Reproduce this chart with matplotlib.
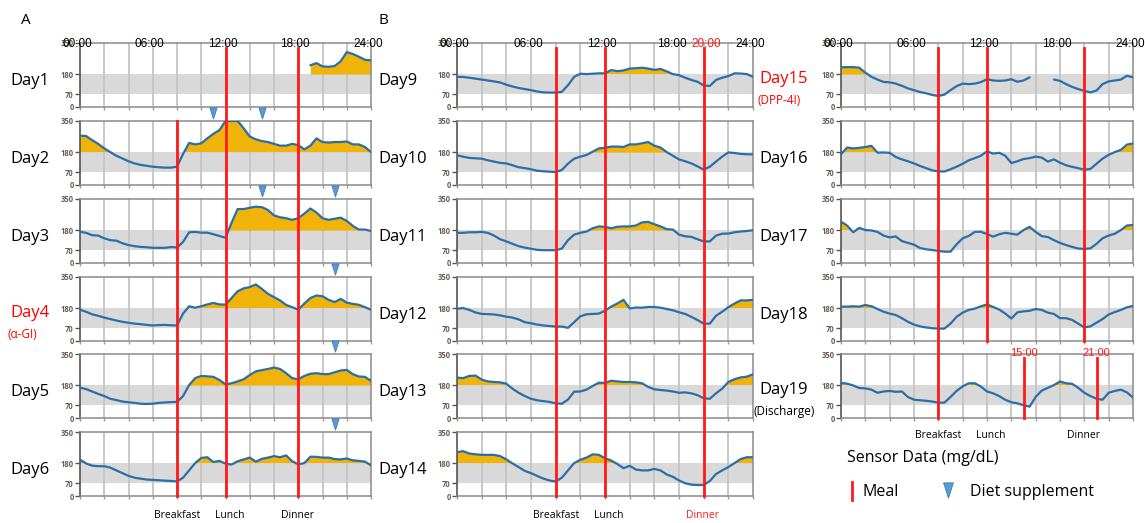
import numpy as np
import matplotlib
matplotlib.use('Agg')
import matplotlib.pyplot as plt
from matplotlib.lines import Line2D

plt.rcParams['font.family'] = ['Open Sans', 'DejaVu Sans']

# half-hour sensor readings (mg/dL), 00:00 .. 24:00
hours = np.arange(0, 24.5, 0.5)
nan = np.nan

day1 = [nan] * 38 + [228, 240, 222, 220, 224, 250, 300, 290, 275, 258, 255]
day2 = [270, 268, 245, 225, 200, 180, 160, 145, 130, 118, 110, 105, 100, 97, 95, 95, 100, 170,
        230, 222, 228, 255, 280, 300, 350, 350, 350, 310, 265, 250, 240, 235, 225, 215, 215, 225,
        218, 195, 215, 255, 235, 232, 235, 235, 238, 222, 222, 208, 180]
day3 = [171, 165, 152, 150, 135, 125, 122, 108, 98, 92, 88, 86, 83, 83, 83, 87, 85, 115,
        168, 170, 166, 166, 157, 148, 138, 220, 295, 295, 302, 308, 305, 290, 260, 250, 245, 236,
        245, 270, 298, 276, 245, 236, 242, 248, 230, 203, 183, 183, 175]
day4 = [171, 160, 146, 138, 128, 120, 112, 105, 100, 95, 92, 88, 85, 87, 88, 86, 85, 150,
        190, 182, 190, 200, 208, 200, 199, 235, 272, 288, 295, 309, 285, 258, 240, 222, 197, 185,
        171, 205, 235, 249, 245, 225, 213, 230, 210, 203, 198, 185, 171]
day5 = [166, 158, 145, 132, 120, 105, 98, 90, 86, 83, 78, 77, 78, 83, 85, 87, 88, 120,
        180, 218, 230, 228, 225, 208, 184, 190, 200, 212, 235, 255, 262, 268, 276, 268, 245, 218,
        212, 230, 242, 245, 240, 240, 250, 260, 263, 240, 227, 225, 203]
day6 = [199, 178, 166, 163, 163, 155, 140, 125, 110, 100, 95, 90, 88, 86, 84, 82, 80, 100,
        140, 180, 208, 212, 186, 192, 177, 172, 190, 200, 210, 188, 203, 210, 218, 212, 222, 190,
        173, 180, 215, 214, 210, 210, 202, 200, 205, 195, 192, 188, 168]
day9 = [165, 164, 160, 155, 150, 145, 140, 134, 122, 112, 104, 98, 92, 85, 80, 79, 79, 83,
        119, 165, 182, 180, 182, 184, 184, 202, 196, 200, 210, 212, 215, 210, 203, 208, 195, 180,
        174, 160, 148, 138, 118, 115, 148, 160, 169, 184, 183, 180, 165]
day10 = [162, 155, 148, 146, 144, 135, 128, 121, 118, 108, 97, 92, 86, 78, 75, 73, 71, 82,
         117, 144, 155, 164, 182, 200, 204, 210, 210, 208, 222, 222, 228, 235, 215, 205, 180, 160,
         140, 130, 118, 102, 84, 100, 128, 155, 178, 175, 170, 168, 168]
day11 = [165, 165, 168, 168, 170, 165, 150, 130, 118, 105, 92, 84, 78, 72, 70, 70, 70, 79,
         125, 155, 165, 172, 190, 200, 198, 190, 198, 200, 200, 205, 222, 225, 212, 200, 185, 183,
         155, 146, 143, 130, 118, 118, 150, 160, 161, 168, 172, 175, 179]
day12 = [176, 180, 170, 156, 148, 147, 145, 140, 133, 128, 118, 103, 97, 90, 85, 82, 79, 79,
         72, 103, 135, 146, 148, 150, 165, 188, 205, 225, 178, 183, 182, 186, 186, 182, 175, 168,
         157, 148, 132, 115, 95, 95, 138, 160, 185, 205, 222, 222, 225]
day13 = [221, 218, 230, 232, 210, 200, 197, 195, 188, 160, 138, 120, 105, 97, 92, 88, 80, 78,
         101, 144, 145, 155, 175, 193, 192, 204, 200, 197, 197, 195, 190, 170, 157, 153, 150, 145,
         138, 140, 135, 125, 108, 105, 135, 160, 197, 212, 222, 226, 239]
day14 = [240, 245, 232, 228, 225, 225, 225, 218, 200, 178, 158, 137, 125, 110, 95, 85, 79, 100,
         140, 180, 198, 210, 228, 225, 207, 194, 175, 152, 165, 145, 140, 140, 148, 140, 118, 105,
         85, 70, 62, 60, 60, 82, 120, 140, 158, 180, 202, 212, 212]
day15 = [217, 218, 218, 215, 188, 165, 150, 137, 135, 128, 116, 102, 92, 82, 75, 66, 60, 68,
         92, 114, 128, 125, 128, 136, 152, 145, 143, 145, 152, 138, 145, 162, nan, nan, nan, 150,
         143, 125, 110, 98, 88, 80, 90, 125, 140, 145, 150, 171, 162]
day16 = [168, 205, 200, 203, 208, 214, 177, 178, 176, 153, 140, 130, 118, 104, 92, 80, 74, 74,
         86, 100, 116, 135, 147, 160, 184, 172, 176, 160, 120, 130, 142, 147, 155, 150, 128, 140,
         122, 108, 99, 92, 83, 88, 116, 144, 165, 180, 192, 221, 227]
day17 = [226, 205, 168, 192, 180, 178, 170, 150, 140, 145, 120, 110, 100, 82, 75, 71, 66, 62,
         62, 102, 135, 148, 170, 171, 158, 144, 157, 165, 160, 155, 180, 198, 170, 147, 142, 125,
         110, 98, 88, 79, 77, 80, 105, 135, 150, 160, 180, 205, 208]
day18 = [188, 188, 190, 188, 197, 190, 175, 160, 150, 142, 125, 105, 90, 80, 74, 70, 68, 68,
         95, 132, 155, 170, 177, 190, 200, 186, 172, 150, 123, 157, 162, 165, 175, 170, 155, 148,
         125, 125, 115, 95, 74, 80, 100, 120, 145, 158, 170, 184, 192]
day19 = [192, 188, 178, 164, 162, 155, 138, 145, 148, 143, 145, 115, 100, 97, 94, 90, 84, 84,
         115, 148, 173, 190, 190, 172, 145, 135, 120, 100, 86, 80, 70, 62, 115, 150, 165, 180,
         200, 190, 187, 165, 138, 120, 105, 100, 138, 148, 155, 140, 112]

col_days = [
    [("Day1", day1), ("Day2", day2), ("Day3", day3), ("Day4", day4), ("Day5", day5), ("Day6", day6)],
    [("Day9", day9), ("Day10", day10), ("Day11", day11), ("Day12", day12), ("Day13", day13), ("Day14", day14)],
    [("Day15", day15), ("Day16", day16), ("Day17", day17), ("Day18", day18), ("Day19", day19)],
]
day_notes = {"Day4": ("(\u03b1-GI)", 'red'), "Day15": ("(DPP-4I)", 'red'), "Day19": ("(Discharge)", 'black')}
supplements = {"Day2": [11, 15], "Day3": [15, 21], "Day4": [21], "Day5": [21], "Day6": [21]}
meal_times = [[8, 12, 18], [8, 12, 20], [8, 12, 20]]
day19_meals = [15, 21]
top_labels = ["00:00", "06:00", "12:00", "18:00", "24:00"]
top_hours = [0, 6, 12, 18, 24]

W, H = 1145, 523
BLUE = '#2a6ea8'
YELLOW = '#f0b30a'
BAND = '#d9d9d9'
GRID = '#c4c4c4'
RED = '#ff1a1a'
TICKC = '#6e5e50'
TRI = '#5b9bd5'

fig = plt.figure(figsize=(W / 100, H / 100), dpi=100)

col_x = [(80, 371), (457, 753), (841, 1133)]
row_top = [43, 121, 199, 277, 354, 432]
row_h = 64


def fxy(x, y):
    return x / W, 1 - y / H


def hx(col, h):
    x0, x1 = col_x[col]
    return x0 + h / 24.0 * (x1 - x0)


tri_path = [(-0.32, 0.5), (0.32, 0.5), (0, -0.5), (-0.32, 0.5)]

for c, days in enumerate(col_days):
    x0, x1 = col_x[c]
    for r, (name, vals) in enumerate(days):
        v = np.array(vals, dtype=float)
        assert v.size == hours.size, name
        top = row_top[r]
        ax = fig.add_axes([x0 / W, 1 - (top + row_h) / H, (x1 - x0) / W, row_h / H])
        ax.set_xlim(0, 24)
        ax.set_ylim(0, 350)
        ax.axhspan(70, 180, color=BAND, lw=0, zorder=0)
        for g in range(2, 24, 2):
            ax.axvline(g, color=GRID, lw=1.3, zorder=1)
        ax.fill_between(hours, 180, v, where=v > 180, interpolate=True, color=YELLOW, lw=0, zorder=2)
        ax.fill_between(hours, v, 70, where=v < 70, interpolate=True, color=RED, lw=0, zorder=2)
        ax.plot(hours, v, color=BLUE, lw=1.6, zorder=3, solid_capstyle='round')
        ax.set_yticks([0, 70, 180, 350])
        ax.set_xticks(range(0, 25, 2))
        ax.set_xticklabels([])
        ax.tick_params(axis='y', labelsize=5.5, labelcolor=TICKC, length=3.5, width=1,
                       color='#555555', pad=1)
        ax.tick_params(axis='x', length=2, width=1, color='#999999')
        for lab in ax.get_yticklabels():
            lab.set_fontweight('bold')
        for s in ['top', 'right', 'bottom']:
            ax.spines[s].set_color('#8a8a8a')
            ax.spines[s].set_linewidth(1.1)
        ax.spines['left'].set_color('#555555')
        ax.spines['left'].set_linewidth(1.2)

        for h in supplements.get(name, []):
            ax.plot(h, 1 + 8 / row_h, marker=tri_path, markersize=8, color=TRI,
                    markeredgecolor='#3d7bb8', markeredgewidth=0.6,
                    transform=ax.get_xaxis_transform(), clip_on=False, zorder=6)

        # day label
        lx = [10, 378, 759][c]
        if name in day_notes:
            note, nc = day_notes[name]
            fig.text(*fxy(lx, top + 36), name, fontsize=12, color=nc, va='center', ha='left')
            fig.text(*fxy(lx - (4 if name == "Day19" else 0) - 2, top + 57), note, fontsize=8.5,
                     color=nc, va='center', ha='left')
        else:
            fig.text(*fxy(lx, top + 38), name, fontsize=12, va='center', ha='left')

    # time labels above first row
    for lab, h in zip(top_labels, top_hours):
        off = -3
        if c == 1 and h == 18:
            off = -7
        fig.text(*fxy(hx(c, h) + off, 44), lab, fontsize=8.5, family='Liberation Sans',
                 ha='center', va='center')

# red 20:00 label for column B
fig.text(*fxy(hx(1, 20) + 3, 44), "20:00", fontsize=8.5, family='Liberation Sans', color=RED,
         ha='center', va='center')


def vline(col, h, y0, y1):
    xf = hx(col, h) / W
    fig.add_artist(Line2D([xf, xf], [1 - y0 / H, 1 - y1 / H], color=RED, lw=2,
                          transform=fig.transFigure, zorder=5))


# meal lines
vline(0, meal_times[0][0], row_top[1], 496)
vline(0, meal_times[0][1], 48, 496)
vline(0, meal_times[0][2], 48, 496)
for h in meal_times[1]:
    vline(1, h, 48, 496)
vline(2, meal_times[2][0], 48, 418)
vline(2, meal_times[2][1], 48, 341)
vline(2, meal_times[2][2], 48, 341)
for h in day19_meals:
    vline(2, h, 358, 418)
    fig.text(*fxy(hx(2, h), 353), "%02d:00" % h, fontsize=8, family='Liberation Sans', color=RED,
             ha='center', va='center')

# meal names under panels
for c, yy in zip([0, 1, 2], [515, 515, 436]):
    mt = meal_times[c]
    fig.text(*fxy(hx(c, mt[0]), yy), "Breakfast", fontsize=7.5, ha='center', va='center')
    fig.text(*fxy(hx(c, mt[1]) + 4, yy), "Lunch", fontsize=7.5, ha='center', va='center')
    fig.text(*fxy(hx(c, mt[2]) - 1, yy), "Dinner", fontsize=7.5, ha='center', va='center',
             color=RED if c == 1 else 'black')

# panel letters
fig.text(*fxy(21, 20), "A", fontsize=11, va='center', ha='left')
fig.text(*fxy(378, 20), "B", fontsize=11, va='center', ha='left')

# legend
fig.text(*fxy(847, 458), "Sensor Data (mg/dL)", fontsize=11.5, va='center', ha='left')
fig.add_artist(Line2D([852 / W, 852 / W], [1 - 482 / H, 1 - 500 / H], color=RED, lw=2,
                      transform=fig.transFigure))
fig.text(*fxy(862, 492), "Meal", fontsize=11.5, va='center', ha='left')
fig.add_artist(Line2D([948 / W], [1 - 490 / H], marker=tri_path, markersize=11, color=TRI,
                      markeredgecolor='#3d7bb8', markeredgewidth=0.6, transform=fig.transFigure))
fig.text(*fxy(970, 492), "Diet supplement", fontsize=11.5, va='center', ha='left')

fig.savefig('out.png', dpi=100)
